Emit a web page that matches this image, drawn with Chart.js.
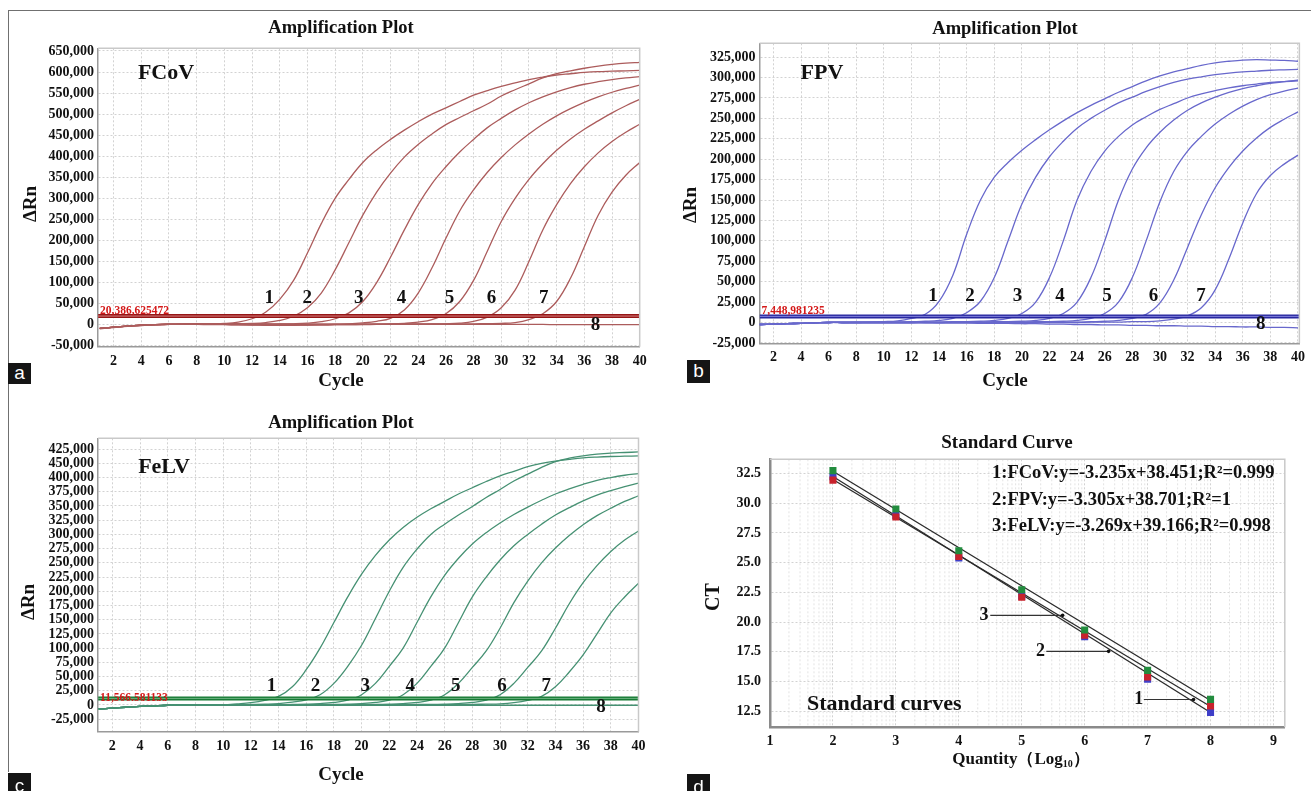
<!DOCTYPE html>
<html><head><meta charset="utf-8">
<script src="https://cdn.jsdelivr.net/npm/chart.js@4"></script>
<style>
html,body{margin:0;padding:0;background:#fff;width:1311px;height:791px;overflow:hidden;position:relative;}
canvas{position:absolute;}
.lbl{position:absolute;background:#151515;color:#fff;font:19px "Liberation Sans",Arial,sans-serif;text-align:center;overflow:hidden;}
.bd{position:absolute;background:#707070;}
</style></head><body>
<div class="bd" style="left:8px;top:10px;width:1303px;height:1px"></div>
<div class="bd" style="left:8px;top:10px;width:1px;height:762px"></div>
<canvas id="cA" width="655" height="395" style="left:0;top:0"></canvas>
<canvas id="cB" width="656" height="395" style="left:655px;top:0"></canvas>
<canvas id="cC" width="655" height="396" style="left:0;top:395px"></canvas>
<canvas id="cD" width="656" height="396" style="left:655px;top:395px"></canvas>
<div class="lbl" style="left:8px;top:363px;width:23px;height:21px;line-height:19px">a</div>
<div class="lbl" style="left:687px;top:360px;width:23px;height:23px;line-height:21px">b</div>
<div class="lbl" style="left:8px;top:773px;width:23px;height:18px;line-height:26px">c</div>
<div class="lbl" style="left:687px;top:774px;width:23px;height:17px;line-height:25px">d</div>
<script>
// ---------------- DATA ----------------
const cycles = [1,2,3,4,5,6,7,8,9,10,11,12,13,14,15,16,17,18,19,20,21,22,23,24,25,26,27,28,29,30,31,32,33,34,35,36,37,38,39,40];
const cycleTicks = [2,4,6,8,10,12,14,16,18,20,22,24,26,28,30,32,34,36,38,40];
const cycleTickLabels = ['2','4','6','8','10','12','14','16','18','20','22','24','26','28','30','32','34','36','38','40'];
const curveNames = ['1','2','3','4','5','6','7','8'];

// Panel a: FCoV
const fcovThreshold = 20386.625472;
const fcovThresholdText = '20,386,625472';
const fcov1 = [-9000,-6000,-3500,-1500,0,1000,1500,2000,2500,3000,6000,14000,30000,60000,105000,170000,240000,300000,345000,385000,415000,440000,462000,482000,500000,515000,530000,545000,556000,566000,574000,582000,588000,593000,596000,599000,601000,602000,603000,604000];
const fcov2 = [-10000,-7000,-4000,-2000,-500,500,1000,1500,2000,2000,2500,3000,5000,10000,20000,40000,75000,130000,195000,260000,315000,360000,398000,428000,453000,475000,492000,508000,524000,543000,558000,572000,586000,596000,603000,609000,614000,618000,621000,623000];
const fcov3 = [-9000,-6000,-3500,-1500,0,1000,1500,2000,2000,2000,2000,2000,1500,1500,2000,3500,7000,14000,28000,55000,100000,160000,225000,285000,335000,375000,410000,440000,468000,490000,510000,527000,541000,553000,563000,571000,577000,582000,586000,589000];
const fcov4 = [-9000,-6000,-3500,-1500,0,1000,1000,1000,1000,500,0,-500,-1000,-1000,-1000,-500,0,500,1500,4000,8000,15000,35000,75000,135000,205000,270000,320000,362000,397000,427000,453000,476000,496000,513000,528000,541000,552000,561000,569000];
const fcov5 = [-9000,-6000,-3500,-1500,0,500,500,500,0,0,-500,-1000,-1500,-1500,-1500,-1000,-500,0,0,500,1000,1500,3000,6000,12000,26000,55000,105000,175000,245000,300000,345000,382000,414000,441000,464000,484000,503000,520000,535000];
const fcov6 = [-9000,-6000,-3500,-1500,0,500,500,500,500,500,0,0,0,-500,-500,-500,-500,0,0,0,500,500,1000,1000,1500,2000,3500,8000,18000,40000,82000,150000,225000,285000,335000,375000,408000,435000,457000,476000];
const fcov7 = [-9000,-6000,-3500,-1500,0,500,1000,1000,1000,1000,1000,1000,1000,1000,1000,1000,1000,1000,1000,1000,1000,1000,1500,1500,1500,2000,2000,2000,2500,3000,5000,12000,26000,55000,110000,185000,260000,315000,355000,385000];
const fcov8 = [-9000,-6000,-3500,-1500,0,500,1000,1000,1000,1000,1000,1000,1000,1000,1000,1000,1000,1000,1000,1000,1000,1000,1000,500,500,500,500,500,500,500,500,500,500,0,0,0,0,0,0,0];
const fcovLabelCycle = [13.25,15.99,19.7,22.8,26.26,29.3,33.07,36.8];
const fcovLabelValue = [64000,64000,64000,64000,64000,64000,64000,0];
const fcovYTicks = [-50000,0,50000,100000,150000,200000,250000,300000,350000,400000,450000,500000,550000,600000,650000];
const fcovYLabels = ['-50,000','0','50,000','100,000','150,000','200,000','250,000','300,000','350,000','400,000','450,000','500,000','550,000','600,000','650,000'];

// Panel b: FPV
const fpvThreshold = 7448.981235;
const fpvThresholdText = '7,448,981235';
const fpv1 = [-2500,-2000,-1500,-1000,-500,0,0,500,500,1000,2000,5000,10000,26000,58000,108000,150000,178000,196000,211000,224000,236000,247000,257000,266000,274000,282000,289000,296000,302000,307000,311000,315000,318000,320000,321500,322000,321500,321000,320000];
const fpv2 = [-2500,-2000,-1500,-1000,-500,0,0,0,500,500,500,1000,1500,2500,5000,12000,26000,55000,100000,145000,178000,203000,222000,238000,250000,260000,269000,276000,283000,289000,294000,298000,301000,303500,305500,307000,308000,309000,309500,310000];
const fpv3 = [-2500,-2000,-1500,-1000,-500,0,0,0,0,0,0,0,500,500,1000,1000,1500,2500,5000,11000,25000,55000,100000,150000,185000,210000,228000,242000,252000,261000,268000,275000,280000,284000,287500,290000,292000,294000,295000,296000];
const fpv4 = [-2500,-2000,-1500,-1000,-500,0,0,0,0,0,0,0,0,0,500,500,500,1000,1000,1500,2500,5000,11000,25000,55000,100000,150000,188000,214000,233000,248000,260000,269000,276000,282000,286500,290000,293000,295000,297000];
const fpv5 = [-2500,-2000,-1500,-1000,-500,0,0,0,0,0,0,0,0,0,0,0,0,500,500,500,1000,1000,1500,2500,5000,11000,25000,55000,100000,148000,185000,210000,228000,243000,255000,265000,273000,279000,283500,287000];
const fpv6 = [-2500,-2000,-1500,-1000,-500,0,0,0,0,0,0,0,0,0,0,0,0,0,0,0,0,500,500,500,1000,1500,2500,5000,10000,24000,52000,92000,132000,165000,190000,210000,226000,239000,249000,258000];
const fpv7 = [-2500,-2000,-1500,-1000,-500,0,0,0,0,0,0,0,0,0,0,0,0,0,0,0,0,0,0,0,500,500,500,1000,1000,2000,4000,8000,18000,40000,78000,122000,158000,180000,194000,205000];
const fpv8 = [-2500,-2000,-1500,-1000,-500,0,0,0,0,0,0,0,0,-500,-500,-500,-1000,-1000,-1000,-1500,-1500,-2000,-2000,-2500,-2500,-3000,-3000,-3500,-3500,-4000,-4000,-4500,-4500,-5000,-5000,-5500,-5500,-6000,-6000,-6500];
const fpvLabelCycle = [13.57,16.25,19.69,22.76,26.16,29.54,32.97,37.3];
const fpvLabelValue = [32900,32900,32900,32900,32900,32900,32900,-2000];
const fpvYTicks = [-25000,0,25000,50000,75000,100000,125000,150000,175000,200000,225000,250000,275000,300000,325000];
const fpvYLabels = ['-25,000','0','25,000','50,000','75,000','100,000','125,000','150,000','175,000','200,000','225,000','250,000','275,000','300,000','325,000'];

// Panel c: FeLV
const felvThreshold = 11566.581133;
const felvThresholdText = '11,566.581133';
const felv1 = [-7000,-5500,-4000,-2500,-1500,-500,0,0,500,500,2000,4000,8000,15000,32000,62000,100000,145000,190000,230000,263000,290000,312000,330000,345000,358000,371000,382000,393000,403000,411000,419000,425000,429000,432000,434500,436000,437000,437500,438000];
const felv2 = [-7000,-5500,-4000,-2500,-1500,-500,0,0,0,500,500,1000,1500,2500,5000,9000,18000,38000,68000,105000,152000,200000,242000,274000,300000,318000,334000,349000,365000,379000,394000,406000,418000,428000,434000,438000,441000,443000,444000,445000];
const felv3 = [-7000,-5500,-4000,-2500,-1500,-500,0,0,0,0,0,0,500,500,1000,1500,2500,4500,8500,18000,38000,68000,100000,145000,190000,228000,258000,283000,303000,320000,335000,348000,360000,371000,380000,388000,395000,400000,404000,407000];
const felv4 = [-7000,-5500,-4000,-2500,-1500,-500,0,0,0,0,0,0,0,0,500,500,1000,1000,1500,2500,4500,8500,18000,38000,68000,100000,145000,190000,225000,255000,280000,300000,318000,334000,347000,359000,369000,377000,384000,390000];
const felv5 = [-7000,-5500,-4000,-2500,-1500,-500,0,0,0,0,0,0,0,0,0,0,500,500,500,1000,1000,1500,2500,4500,8500,18000,38000,66000,95000,135000,180000,218000,250000,276000,298000,317000,333000,346000,358000,368000];
const felv6 = [-7000,-5500,-4000,-2500,-1500,-500,0,0,0,0,0,0,0,0,0,0,0,0,500,500,500,500,1000,1000,1000,1500,2500,4500,8500,18000,38000,66000,95000,135000,178000,215000,245000,270000,290000,306000];
const felv7 = [-7000,-5500,-4000,-2500,-1500,-500,0,0,0,0,0,0,0,0,0,0,0,0,0,0,0,0,0,500,500,500,1000,1000,1500,2000,4000,8000,15000,32000,58000,88000,125000,162000,190000,214000];
const felv8 = [-7000,-5500,-4000,-2500,-1500,-500,0,0,0,0,0,0,0,0,0,0,-500,-500,-500,-500,-500,-500,-500,-500,-500,-500,-500,-500,-500,-500,-500,-500,-500,-500,-500,-500,-500,-500,-500,-500];
const felvLabelCycle = [13.49,16.68,20.27,23.52,26.8,30.15,33.34,37.3];
const felvLabelValue = [33900,33900,33900,33900,33900,33900,33900,-3600];
const felvYTicks = [-25000,0,25000,50000,75000,100000,125000,150000,175000,200000,225000,250000,275000,300000,325000,350000,375000,400000,425000,450000];
const felvYLabels = ['-25,000','0','25,000','50,000','75,000','100,000','125,000','150,000','175,000','200,000','225,000','250,000','275,000','300,000','325,000','350,000','375,000','400,000','450,000','425,000'];

// Panel d: standard curves
const quantityLog = [2,3,4,5,6,7,8];
const ctFCoV = [31.95,28.84,25.53,22.09,18.89,15.39,12.94];
const ctFPV  = [32.23,28.97,25.40,22.17,18.78,15.20,12.39];
const ctFeLV = [32.75,29.52,26.00,22.72,19.33,15.94,13.50];
const fitQuantity = [2,8];
const fitFCoV = [32.0,12.9];
const fitFPV  = [32.25,12.4];
const fitFeLV = [32.7,13.4];
const equations = ['1:FCoV:y=-3.235x+38.451;R\u00B2=0.999','2:FPV:y=-3.305x+38.701;R\u00B2=1','3:FeLV:y=-3.269x+39.166;R\u00B2=0.998'];
const pointerNames = ['3','2','1'];
const pointerCT = [20.57,17.54,13.49];
const pointerTextQ = [4.4,5.3,6.86];
const pointerFromQ = [4.5,5.39,6.94];
const pointerToQ = [5.65,6.38,7.73];
const stdXTicks = [1,2,3,4,5,6,7,8,9];
const stdXLabels = ['1','2','3','4','5','6','7','8','9'];
const stdYTicks = [12.5,15,17.5,20,22.5,25,27.5,30,32.5];
const stdYLabels = ['12.5','15.0','17.5','20.0','22.5','25.0','27.5','30.0','32.5'];

// ---------------- RENDER ----------------
const SERIF = '"Liberation Serif","Times New Roman",serif';
function txt(ctx, s, x, y, size, o) {
  o = o || {};
  ctx.save();
  ctx.font = 'bold ' + size + 'px ' + SERIF;
  ctx.fillStyle = o.color || '#111';
  ctx.textAlign = o.align || 'center';
  ctx.textBaseline = 'middle';
  if (o.rot) { ctx.translate(x, y); ctx.rotate(o.rot); ctx.fillText(s, 0, 0); }
  else ctx.fillText(s, x, y);
  ctx.restore();
}

function axisCommon(ticks, labels, fit, isX, fontSize) {
  return {
    type: 'linear', bounds: 'data',
    afterBuildTicks: s => { s.ticks = ticks.map(v => ({value: v})); },
    afterFit: fit,
    ticks: {autoSkip: false, maxRotation: 0, minRotation: 0, padding: isX ? 6 : 4, color: '#111',
      font: {family: SERIF, size: fontSize, weight: 'bold'},
      callback: v => { const i = ticks.indexOf(v); return i >= 0 ? labels[i] : ''; }},
    grid: {color: '#d2d2d2', lineWidth: 1, drawTicks: false},
    border: {display: true, color: '#9a9a9a', width: 1.5, dash: [2, 2]}
  };
}

function ampChart(P) {
  const ds = [];
  ds.push({data: [{x: P.xMin, y: P.thr}, {x: P.xMax, y: P.thr}], borderColor: P.thrLight, borderWidth: 1, pointRadius: 0});
  ds.push({data: [{x: P.xMin, y: P.thr}, {x: P.xMax, y: P.thr}], borderColor: P.thrColor, borderWidth: 4, pointRadius: 0});
  P.curves.forEach(vals => ds.push({
    data: cycles.map((c, i) => ({x: c, y: vals[i]})),
    borderColor: P.color, borderWidth: 1.3, pointRadius: 0, tension: 0.4
  }));
  const plug = {
    id: 'decor',
    afterDraw(chart) {
      const ctx = chart.ctx, a = chart.chartArea, ox = P.ox, oy = P.oy;
      ctx.save(); ctx.strokeStyle = '#c9c9c9'; ctx.lineWidth = 1.5;
      ctx.beginPath(); ctx.moveTo(a.left, a.top); ctx.lineTo(a.right, a.top); ctx.lineTo(a.right, a.bottom); ctx.stroke(); ctx.restore();
      txt(ctx, 'Amplification Plot', P.titleX - ox, P.titleY - oy, 18.5);
      txt(ctx, '\u0394Rn', P.ylX - ox, P.ylY - oy, 19, {rot: -Math.PI / 2});
      txt(ctx, 'Cycle', P.titleX - ox, P.xlY - oy, 19);
      txt(ctx, P.name, P.nameX - ox, P.nameY - oy, 22);
      txt(ctx, P.thrText, a.left + 2, P.thrTextY - oy, 11.5, {align: 'left', color: '#d41818'});
      const xs = chart.scales.x, ys = chart.scales.y;
      curveNames.forEach((n, i) => txt(ctx, n, xs.getPixelForValue(P.labCycle[i]), ys.getPixelForValue(P.labVal[i]), 19));
    }
  };
  new Chart(document.getElementById(P.id), {
    type: 'line', data: {datasets: ds},
    options: {
      responsive: false, animation: false, devicePixelRatio: 1,
      layout: {padding: {left: 0, top: P.pad[0], right: P.pad[1], bottom: P.pad[2]}},
      plugins: {legend: {display: false}, tooltip: {enabled: false}},
      scales: {
        x: Object.assign(axisCommon(cycleTicks, cycleTickLabels, s => { s.height = 30; }, true, 14), {min: P.xMin, max: P.xMax}),
        y: Object.assign(axisCommon(P.yTicks, P.yLabels, s => { s.width = P.yW; }, false, 14), {min: P.yMin, max: P.yMax})
      }
    },
    plugins: [plug]
  });
}

ampChart({id: 'cA', ox: 0, oy: 0, pad: [48.3, 15.3, 18.3], yW: 98.1,
  xMin: 0.88, xMax: 40, yMin: -52400, yMax: 656400,
  yTicks: fcovYTicks, yLabels: fcovYLabels,
  curves: [fcov1, fcov2, fcov3, fcov4, fcov5, fcov6, fcov7, fcov8],
  color: 'rgb(172,92,92)', thr: fcovThreshold, thrColor: 'rgb(150,22,22)', thrLight: 'rgb(214,130,130)',
  thrText: fcovThresholdText, thrTextY: 311.5,
  name: 'FCoV', nameX: 166, nameY: 73, titleX: 341, titleY: 28, ylX: 31, ylY: 204, xlY: 381,
  labCycle: fcovLabelCycle, labVal: fcovLabelValue});

ampChart({id: 'cB', ox: 655, oy: 0, pad: [43.3, 8.3, 21.7], yW: 104.6,
  xMin: 1.0, xMax: 40.1, yMin: -25500, yMax: 342000,
  yTicks: fpvYTicks, yLabels: fpvYLabels,
  curves: [fpv1, fpv2, fpv3, fpv4, fpv5, fpv6, fpv7, fpv8],
  color: 'rgb(104,104,204)', thr: fpvThreshold, thrColor: 'rgb(40,40,160)', thrLight: 'rgb(130,130,220)',
  thrText: fpvThresholdText, thrTextY: 311,
  name: 'FPV', nameX: 822, nameY: 73, titleX: 1005, titleY: 29, ylX: 691, ylY: 205, xlY: 381,
  labCycle: fpvLabelCycle, labVal: fpvLabelValue});

ampChart({id: 'cC', ox: 0, oy: 395, pad: [43.3, 16.5, 29.3], yW: 98.1,
  xMin: 0.97, xMax: 40, yMin: -47000, yMax: 469000,
  yTicks: felvYTicks, yLabels: felvYLabels,
  curves: [felv1, felv2, felv3, felv4, felv5, felv6, felv7, felv8],
  color: 'rgb(70,145,115)', thr: felvThreshold, thrColor: 'rgb(22,122,52)', thrLight: 'rgb(110,180,130)',
  thrText: felvThresholdText, thrTextY: 697.7,
  name: 'FeLV', nameX: 164, nameY: 467, titleX: 341, titleY: 423, ylX: 29, ylY: 602, xlY: 775,
  labCycle: felvLabelCycle, labVal: felvLabelValue});

// Standard curve chart
(function () {
  const ox = 655, oy = 395;
  const pts = (ys) => quantityLog.map((q, i) => ({x: q, y: ys[i]}));
  const fit = (ys) => fitQuantity.map((q, i) => ({x: q, y: ys[i]}));
  const sq = (data, c) => ({type: 'scatter', data: data, showLine: false, pointStyle: 'rect', pointRadius: 5,
    backgroundColor: c, borderColor: c, borderWidth: 0});
  const ln = (data) => ({type: 'line', data: data, borderColor: '#2a2a2a', borderWidth: 1.3, pointRadius: 0});
  const ds = [sq(pts(ctFeLV), 'rgb(34,140,62)'), sq(pts(ctFCoV), 'rgb(200,34,44)'), sq(pts(ctFPV), 'rgb(62,62,200)'),
    ln(fit(fitFeLV)), ln(fit(fitFCoV)), ln(fit(fitFPV))];
  const plug = {
    id: 'decorD',
    beforeDatasetsDraw(chart) {
      const ctx = chart.ctx, a = chart.chartArea, xs = chart.scales.x;
      ctx.save(); ctx.strokeStyle = '#e3e3e3'; ctx.lineWidth = 1; ctx.setLineDash([2, 2]);
      for (let k = 1; k <= 9; k++) {
        for (let m = 2; m <= 9; m++) {
          const px = xs.getPixelForValue(k + Math.log10(m));
          if (px > a.right) continue;
          ctx.beginPath(); ctx.moveTo(px, a.top); ctx.lineTo(px, a.bottom); ctx.stroke();
        }
      }
      ctx.restore();
    },
    afterDraw(chart) {
      const ctx = chart.ctx, a = chart.chartArea, xs = chart.scales.x, ys = chart.scales.y;
      ctx.save(); ctx.strokeStyle = '#c9c9c9'; ctx.lineWidth = 1.5;
      ctx.beginPath(); ctx.moveTo(a.left, a.top); ctx.lineTo(a.right, a.top); ctx.lineTo(a.right, a.bottom); ctx.stroke(); ctx.restore();
      txt(ctx, 'Standard Curve', 1007 - ox, 443 - oy, 19);
      txt(ctx, 'CT', 714 - ox, 597 - oy, 20, {rot: -Math.PI / 2});
      ctx.save();
      const f1 = 'bold 17px ' + SERIF, f2 = 'bold 10px ' + SERIF;
      const parts = [['Quantity\uFF08Log', f1, 0], ['10', f2, 4], ['\uFF09', f1, 0]];
      let w = 0; parts.forEach(p => { ctx.font = p[1]; w += ctx.measureText(p[0]).width; });
      let x = 1021 - ox - w / 2;
      ctx.fillStyle = '#111'; ctx.textBaseline = 'middle'; ctx.textAlign = 'left';
      parts.forEach(p => { ctx.font = p[1]; ctx.fillText(p[0], x, 760 - oy + p[2]); x += ctx.measureText(p[0]).width; });
      ctx.restore();
      equations.forEach((e, i) => txt(ctx, e, 992 - ox, [473.5, 500, 526.7][i] - oy, 18.5, {align: 'left'}));
      txt(ctx, 'Standard curves', 807 - ox, 704 - oy, 22, {align: 'left'});
      pointerNames.forEach((n, i) => {
        const y = ys.getPixelForValue(pointerCT[i]);
        txt(ctx, n, xs.getPixelForValue(pointerTextQ[i]), y, 18);
        const x0 = xs.getPixelForValue(pointerFromQ[i]), x1 = xs.getPixelForValue(pointerToQ[i]);
        ctx.save(); ctx.strokeStyle = '#333'; ctx.lineWidth = 1.2;
        ctx.beginPath(); ctx.moveTo(x0, y); ctx.lineTo(x1, y); ctx.stroke();
        ctx.fillStyle = '#111'; ctx.beginPath(); ctx.arc(x1, y, 1.8, 0, Math.PI * 2); ctx.fill();
        ctx.restore();
      });
    }
  };
  const xa = Object.assign(axisCommon(stdXTicks, stdXLabels, s => { s.height = 30; }, true, 14), {min: 1, max: 9.18});
  const ya = Object.assign(axisCommon(stdYTicks, stdYLabels, s => { s.width = 115; }, false, 14), {min: 11.15, max: 33.7});
  xa.border = {display: true, color: '#8a8a8a', width: 2.5, dash: [2, 2]};
  ya.border = {display: true, color: '#8a8a8a', width: 2.5, dash: [2, 2]};
  ya.ticks.padding = 9;
  new Chart(document.getElementById('cD'), {
    type: 'scatter', data: {datasets: ds},
    options: {
      responsive: false, animation: false, devicePixelRatio: 1,
      layout: {padding: {left: 0, top: 64.3, right: 26.2, bottom: 33.7}},
      plugins: {legend: {display: false}, tooltip: {enabled: false}},
      scales: {x: xa, y: ya}
    },
    plugins: [plug]
  });
})();
</script>
</body></html>
